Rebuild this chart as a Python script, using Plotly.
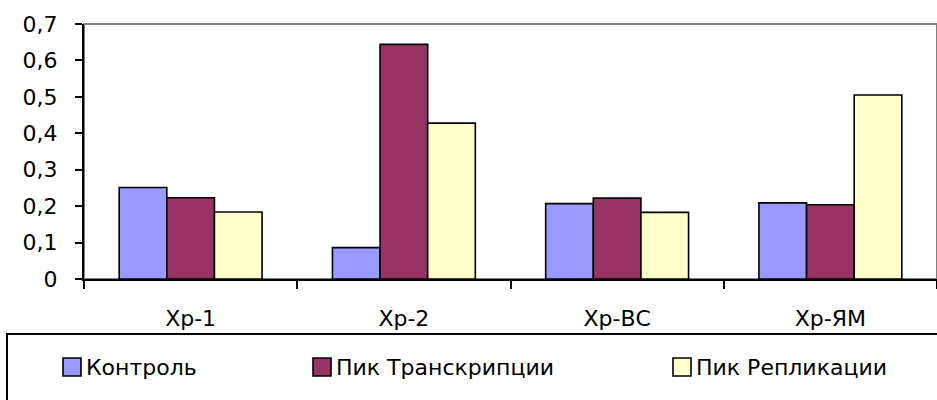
import plotly.graph_objects as go

# Categories and series values
categories = ["Хр-1", "Хр-2", "Хр-ВС", "Хр-ЯМ"]
series_names = ["Контроль", "Пик Транскрипции", "Пик Репликации"]
control = [0.251, 0.086, 0.207, 0.209]
transcription_peak = [0.223, 0.644, 0.222, 0.204]
replication_peak = [0.184, 0.428, 0.183, 0.505]
y_tick_values = [0, 0.1, 0.2, 0.3, 0.4, 0.5, 0.6, 0.7]
y_tick_labels = ["0", "0,1", "0,2", "0,3", "0,4", "0,5", "0,6", "0,7"]

colors = ["#9999FF", "#993366", "#FFFFCC"]
FONT = "DejaVu Sans, sans-serif"
FONT_SIZE = 22

W, H = 937, 400
M_L, M_R, M_T, M_B = 84, 0, 24, 121


def px_x(px):
    return (px - M_L) / (W - M_L - M_R)


def px_y(py):
    return (H - M_B - py) / (H - M_T - M_B)


fig = go.Figure()
for name, vals, col in zip(series_names, [control, transcription_peak, replication_peak], colors):
    fig.add_trace(go.Bar(
        x=categories, y=vals, name=name,
        marker=dict(color=col, line=dict(color="black", width=1.6)),
        showlegend=False,
    ))

shapes = [
    # plot-area frame (grey), axes drawn over it in black
    dict(type="rect", xref="paper", yref="paper", x0=0, x1=1, y0=0, y1=1,
         line=dict(color="#808080", width=2), layer="below"),
    # legend frame
    dict(type="rect", xref="paper", yref="paper",
         x0=px_x(7), x1=px_x(960), y0=px_y(334), y1=px_y(420),
         line=dict(color="black", width=2)),
]
annotations = []
legend_marker_x = [63, 313, 673]
for name, col, mx in zip(series_names, colors, legend_marker_x):
    shapes.append(dict(type="rect", xref="paper", yref="paper",
                       x0=px_x(mx), x1=px_x(mx + 18), y0=px_y(376), y1=px_y(358),
                       fillcolor=col, line=dict(color="black", width=1.6)))
    annotations.append(dict(xref="paper", yref="paper", x=px_x(mx + 21), y=px_y(367),
                            text=name, showarrow=False, xanchor="left", yanchor="middle",
                            font=dict(family=FONT, size=FONT_SIZE, color="black")))

fig.update_layout(
    width=W, height=H, autosize=False,
    margin=dict(l=M_L, r=M_R, t=M_T, b=M_B, pad=0),
    plot_bgcolor="white", paper_bgcolor="white",
    barmode="group", bargap=0.33, bargroupgap=0,
    font=dict(family=FONT, size=FONT_SIZE, color="black"),
    shapes=shapes, annotations=annotations,
    xaxis=dict(
        type="category", range=[-0.5, 3.5],
        showline=True, linecolor="black", linewidth=2,
        ticks="outside", tickson="boundaries", ticklen=8, tickwidth=2, tickcolor="black",
        showgrid=False, zeroline=False, ticklabelstandoff=19,
        tickfont=dict(family=FONT, size=FONT_SIZE, color="black"),
    ),
    yaxis=dict(
        range=[0, 0.7], tickvals=y_tick_values, ticktext=y_tick_labels,
        showline=True, linecolor="black", linewidth=2,
        ticks="outside", ticklen=7, tickwidth=2, tickcolor="black",
        showgrid=False, zeroline=False, ticklabelstandoff=13,
        tickfont=dict(family=FONT, size=FONT_SIZE, color="black"),
    ),
)

fig.write_html("out.html")
